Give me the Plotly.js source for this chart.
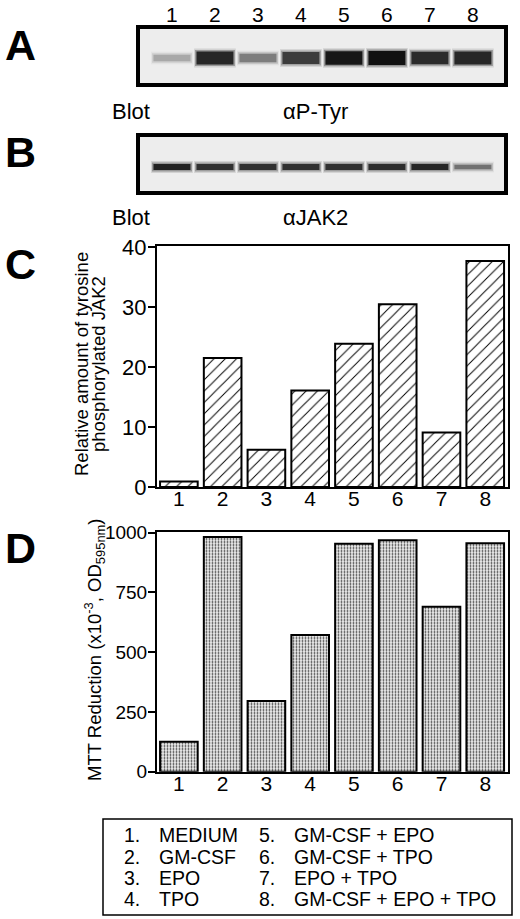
<!DOCTYPE html>
<html>
<head>
<meta charset="utf-8">
<script src="https://cdn.plot.ly/plotly-3.0.1.min.js"></script>
<style>html,body{margin:0;padding:0;background:#fff;}#chart{width:520px;height:919px;}</style>
</head>
<body>
<div id="chart"></div>
<script>
// ---- data ----
var lanes = [1, 2, 3, 4, 5, 6, 7, 8];
var laneLabels = ['1', '2', '3', '4', '5', '6', '7', '8'];
// relative band intensity read from the blots (0..1)
var bandPTyr = [0.30, 0.90, 0.50, 0.80, 0.97, 1.00, 0.88, 0.90];
var bandJAK2 = [0.92, 0.85, 0.85, 0.85, 0.85, 0.87, 0.90, 0.55];
// panel C: relative amount of tyrosine phosphorylated JAK2
var phosphoJAK2 = [0.9, 21.5, 6.2, 16.1, 23.9, 30.5, 9.1, 37.7];
var cTicks = [0, 10, 20, 30, 40];
// panel D: MTT reduction (x10^-3, OD595nm)
var mttReduction = [125, 982, 296, 572, 954, 968, 690, 956];
var dTicks = [0, 250, 500, 750, 1000];
// legend
var legendNums = ['1.', '2.', '3.', '4.', '5.', '6.', '7.', '8.'];
var legendItems = ['MEDIUM', 'GM-CSF', 'EPO', 'TPO', 'GM-CSF + EPO', 'GM-CSF + TPO', 'EPO + TPO', 'GM-CSF + EPO + TPO'];

// ---- helpers ----
var W = 520, H = 919;
function px(x) { return x / W; }
function py(y) { return 1 - y / H; }
var FONT = 'Liberation Sans, Arial, Helvetica, sans-serif';

function grey(i) { var g = Math.round(232 - 215 * i); return 'rgb(' + g + ',' + g + ',' + g + ')'; }

function bandTraces(intens, xa, ya, center, thick0, thickK) {
  var core = intens.map(function (i) { return thick0 + thickK * i; });
  var layers = [
    { extra: 6, width: 0.97, opacity: 0.18, k: 0.7 },
    { extra: 3, width: 0.93, opacity: 0.4, k: 0.85 },
    { extra: 0, width: 0.86, opacity: 1, k: 1 }
  ];
  return layers.map(function (L) {
    var t = core.map(function (c) { return c + L.extra; });
    return { type: 'bar', x: lanes, y: t, base: t.map(function (v) { return center - v / 2; }),
      width: L.width, xaxis: xa, yaxis: ya, hoverinfo: 'skip', showlegend: false, opacity: L.opacity,
      marker: { color: intens.map(function (i) { return grey(i * L.k); }), line: { width: 0 } } };
  });
}

var traces = [];
traces = traces.concat(bandTraces(bandPTyr, 'x', 'y', 27, 3, 11));
traces = traces.concat(bandTraces(bandJAK2, 'x2', 'y2', 26, 2, 4.5));

traces.push({
  type: 'bar', x: lanes, y: phosphoJAK2, width: 0.86, xaxis: 'x3', yaxis: 'y3',
  showlegend: false,
  marker: { color: 'white', line: { color: 'black', width: 2 },
    pattern: { shape: '/', fgcolor: 'black', bgcolor: 'white', size: 8, solidity: 0.12 } }
});
traces.push({
  type: 'bar', x: lanes, y: mttReduction, width: 0.86, xaxis: 'x4', yaxis: 'y4',
  showlegend: false,
  marker: { color: '#d0d0d0', line: { color: 'black', width: 2 },
    pattern: { shape: '.', fgcolor: '#3a3a3a', bgcolor: '#eeeeee', size: 3, solidity: 0.3 } }
});

var blotX = { range: [0.21, 8.77], showgrid: false, zeroline: false, showline: false, ticks: '',
  tickvals: lanes, ticktext: laneLabels, fixedrange: true };
var hiddenY = { showgrid: false, zeroline: false, showline: false, showticklabels: false, ticks: '', fixedrange: true };

var barX = { range: [0.5, 8.52], showgrid: false, zeroline: false, showline: true, mirror: true,
  linecolor: 'black', linewidth: 2, ticks: '', tickvals: lanes, ticktext: laneLabels,
  ticklabelstandoff: -8,
  tickfont: { family: FONT, size: 21, color: 'black' } };

var layout = {
  width: W, height: H,
  margin: { l: 0, r: 0, t: 0, b: 0, pad: 0 },
  paper_bgcolor: 'white', plot_bgcolor: 'white',
  barmode: 'overlay',
  showlegend: false,
  font: { family: FONT, color: 'black' },
  xaxis: Object.assign({}, blotX, { domain: [px(138), px(506)], anchor: 'y', side: 'top',
    showticklabels: true, tickfont: { family: FONT, size: 21, color: 'black' } }),
  yaxis: Object.assign({}, hiddenY, { domain: [py(85), py(27)], range: [0, 58], anchor: 'x' }),
  xaxis2: Object.assign({}, blotX, { domain: [px(138), px(506)], anchor: 'y2', showticklabels: false }),
  yaxis2: Object.assign({}, hiddenY, { domain: [py(193), py(135)], range: [0, 58], anchor: 'x2' }),
  xaxis3: Object.assign({}, barX, { domain: [px(157), px(508)], anchor: 'y3' }),
  yaxis3: { domain: [py(487), py(246)], range: [0, 40.2], anchor: 'x3', tickvals: cTicks,
    showgrid: false, zeroline: false, showline: true, mirror: true, linecolor: 'black', linewidth: 2,
    ticks: 'outside', ticklen: 7, tickwidth: 2, tickcolor: 'black', ticklabelstandoff: -3,
    tickfont: { family: FONT, size: 22, color: 'black' } },
  xaxis4: Object.assign({}, barX, { domain: [px(157), px(508)], anchor: 'y4' }),
  yaxis4: { domain: [py(771.7), py(531.5)], range: [0, 1005], anchor: 'x4', tickvals: dTicks,
    showgrid: false, zeroline: false, showline: true, mirror: true, linecolor: 'black', linewidth: 2,
    ticks: 'outside', ticklen: 7, tickwidth: 2, tickcolor: 'black', ticklabelstandoff: -3,
    tickfont: { family: FONT, size: 19, color: 'black' } },
  shapes: [
    { type: 'rect', xref: 'x domain', yref: 'y domain', x0: 0, x1: 1, y0: 0, y1: 1,
      line: { color: 'black', width: 4 }, fillcolor: '#ededed', layer: 'below' },
    { type: 'rect', xref: 'x2 domain', yref: 'y2 domain', x0: 0, x1: 1, y0: 0, y1: 1,
      line: { color: 'black', width: 4 }, fillcolor: '#ededed', layer: 'below' },
    { type: 'rect', xref: 'paper', yref: 'paper', x0: px(103), x1: px(512), y0: py(915), y1: py(819),
      line: { color: 'black', width: 1.5 }, fillcolor: 'rgba(0,0,0,0)' }
  ],
  annotations: []
};

function ann(text, x, y, opts) {
  var a = { text: text, x: px(x), y: py(y), xref: 'paper', yref: 'paper', showarrow: false,
    xanchor: 'left', yanchor: 'middle', font: { family: FONT, size: 20, color: 'black' } };
  return Object.assign(a, opts || {});
}

// panel letters
[['A', 45], ['B', 152], ['C', 264], ['D', 548]].forEach(function (p) {
  layout.annotations.push(ann('<b>' + p[0] + '</b>', 20, p[1],
    { xanchor: 'center', font: { family: FONT, size: 43, color: 'black' } }));
});
// blot captions
var capFont = { family: FONT, size: 22, color: 'black' };
layout.annotations.push(ann('Blot', 110, 112, { font: capFont }));
layout.annotations.push(ann('\u03B1P-Tyr', 281, 112, { font: capFont }));
layout.annotations.push(ann('Blot', 110, 218, { font: capFont }));
layout.annotations.push(ann('\u03B1JAK2', 281, 218, { font: capFont }));
// y titles
layout.annotations.push(ann('Relative amount of tyrosine', 82, 364,
  { xanchor: 'center', textangle: -90, font: { family: FONT, size: 18.5, color: 'black' } }));
layout.annotations.push(ann('phosphorylated JAK2', 99, 364,
  { xanchor: 'center', textangle: -90, font: { family: FONT, size: 18.5, color: 'black' } }));
layout.annotations.push(ann('MTT Reduction (x10<sup>-3</sup>, OD<sub>595nm</sub>)', 94, 650,
  { xanchor: 'center', textangle: -90, font: { family: FONT, size: 18.5, color: 'black' } }));
// legend text
var rowY = [835, 857, 878, 899];
legendItems.forEach(function (name, i) {
  var col = Math.floor(i / 4), row = i % 4;
  var nx = col === 0 ? 122 : 257, tx = col === 0 ? 157 : 292;
  layout.annotations.push(ann(legendNums[i], nx, rowY[row], { font: { family: FONT, size: 19.5, color: 'black' } }));
  layout.annotations.push(ann(name, tx, rowY[row], { font: { family: FONT, size: 19.5, color: 'black' } }));
});

Plotly.newPlot('chart', traces, layout, { staticPlot: true, displayModeBar: false });
</script>
</body>
</html>
